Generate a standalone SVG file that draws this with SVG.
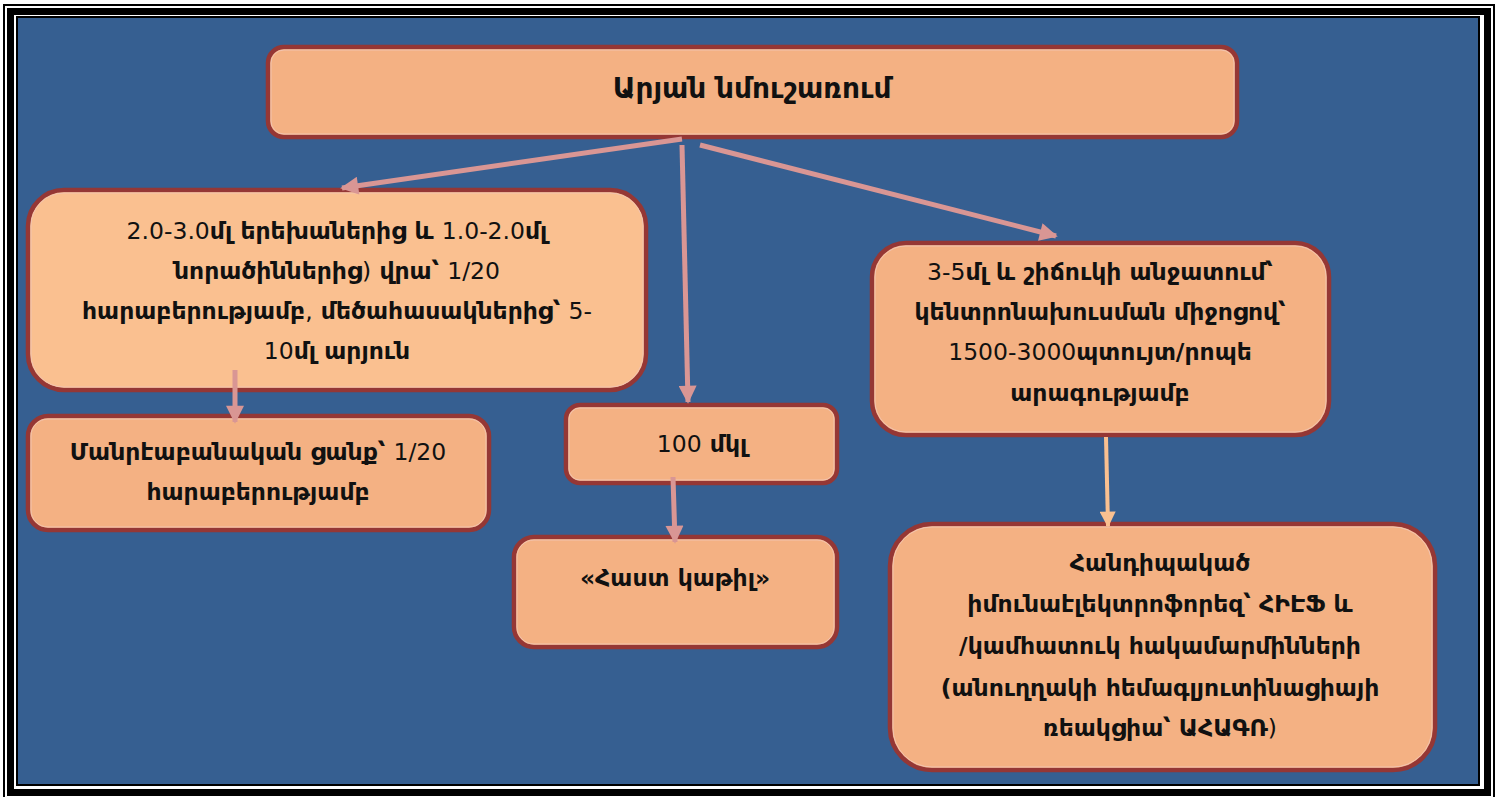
<svg xmlns="http://www.w3.org/2000/svg" width="1498" height="797" viewBox="0 0 1498 797">
<style>
.box{stroke:#953735;stroke-width:4.5}
.inl{fill:none;stroke:#F2C4B0;stroke-width:1}
.t{font-family:"DejaVu Sans","Noto Sans",sans-serif;font-weight:bold;font-size:23.5px;fill:#111;text-anchor:middle}
.n{font-weight:normal}
.c{stroke:#D99694;stroke-width:5;fill:none}
.c2{stroke:#FAC090;stroke-width:4;fill:none}
</style>
<defs>
<marker id="ah" viewBox="0 0 10 10" refX="9" refY="5" markerWidth="4" markerHeight="3.6" orient="auto" markerUnits="strokeWidth">
<path d="M0,0 L10,5 L0,10 z" fill="#D99694"/>
</marker>
<marker id="ah2" viewBox="0 0 10 10" refX="9" refY="5" markerWidth="4.5" markerHeight="4" orient="auto" markerUnits="strokeWidth">
<path d="M0,0 L10,5 L0,10 z" fill="#FAC090"/>
</marker>
</defs>
<rect x="0" y="0" width="1498" height="797" fill="#fff"/>
<rect x="4" y="5" width="1490" height="800" fill="none" stroke="#000" stroke-width="2"/>
<rect x="10.5" y="11.5" width="1477" height="781" fill="none" stroke="#000" stroke-width="7"/>
<rect x="17" y="17" width="1462" height="768" fill="none" stroke="#000" stroke-width="2"/>
<rect x="18" y="18" width="1460" height="766" fill="#365F91"/>

<g id="n1">
<rect class="box" x="268" y="47" width="969" height="90" rx="16" fill="#F4B183"/>
<rect class="inl" x="271" y="50" width="963" height="84" rx="13"/>
<text class="t" x="752" y="98" style="font-size:28px">Արյան նմուշառում</text>
</g>

<g id="n2">
<rect class="box" x="28" y="190" width="618" height="200" rx="36" fill="#FAC090"/>
<rect class="inl" x="31" y="193" width="612" height="194" rx="33"/>
<text class="t" x="337" y="239"><tspan class="n">2.0-3.0</tspan>մլ երեխաներից և <tspan class="n">1.0-2.0</tspan>մլ</text>
<text class="t" x="337" y="279">նորածիններից<tspan class="n">)</tspan> վրա՝ <tspan class="n">1/20</tspan></text>
<text class="t" x="337" y="319">հարաբերությամբ<tspan class="n">,</tspan> մեծահասակներից՝ <tspan class="n">5-</tspan></text>
<text class="t" x="337" y="359"><tspan class="n">10</tspan>մլ արյուն</text>
</g>

<g id="n3">
<rect class="box" x="28" y="416" width="461" height="114" rx="20" fill="#F4B183"/>
<rect class="inl" x="31" y="419" width="455" height="108" rx="17"/>
<text class="t" x="258" y="460">Մանրէաբանական ցանք՝ <tspan class="n">1/20</tspan></text>
<text class="t" x="258" y="500">հարաբերությամբ</text>
</g>

<g id="n4">
<rect class="box" x="566" y="405" width="271" height="78" rx="14" fill="#F4B183"/>
<rect class="inl" x="569" y="408" width="265" height="72" rx="11"/>
<text class="t" x="702" y="452"><tspan class="n">100</tspan> մկլ</text>
</g>

<g id="n5">
<rect class="box" x="514" y="537" width="323" height="110" rx="20" fill="#F4B183"/>
<rect class="inl" x="517" y="540" width="317" height="104" rx="17"/>
<text class="t" x="675" y="586">«Հաստ կաթիլ»</text>
</g>

<g id="n6">
<rect class="box" x="872" y="243" width="457" height="192" rx="34" fill="#F4B183"/>
<rect class="inl" x="875" y="246" width="451" height="186" rx="31"/>
<text class="t" x="1100" y="280"><tspan class="n">3-5</tspan>մլ և շիճուկի անջատում՝</text>
<text class="t" x="1100" y="320">կենտրոնախուսման միջոցով՝</text>
<text class="t" x="1100" y="360"><tspan class="n">1500-3000</tspan>պտույտ/րոպե</text>
<text class="t" x="1100" y="401">արագությամբ</text>
</g>

<g id="n7">
<rect class="box" x="890" y="524" width="545" height="246" rx="42" fill="#F4B183"/>
<rect class="inl" x="893" y="527" width="539" height="240" rx="39"/>
<text class="t" x="1160" y="571">Հանդիպակած</text>
<text class="t" x="1160" y="612">իմունաէլեկտրոֆորեզ՝ ՀԻԷՖ և</text>
<text class="t" x="1160" y="654">/կամհատուկ հակամարմինների</text>
<text class="t" x="1160" y="696">(անուղղակի հեմագլյուտինացիայի</text>
<text class="t" x="1160" y="736">ռեակցիա՝ ԱՀԱԳՌ<tspan class="n">)</tspan></text>
</g>

<g id="connectors">
<line class="c" x1="682" y1="139" x2="342" y2="188" marker-end="url(#ah)"/>
<line class="c" x1="682" y1="145" x2="688" y2="402" marker-end="url(#ah)"/>
<line class="c" x1="700" y1="145" x2="1056" y2="236" marker-end="url(#ah)"/>
<line class="c" x1="235" y1="370" x2="235" y2="422" marker-end="url(#ah)"/>
<line class="c" x1="673" y1="477" x2="675" y2="542" marker-end="url(#ah)"/>
<line class="c2" x1="1106" y1="437" x2="1108" y2="526" marker-end="url(#ah2)"/>
</g>
</svg>
